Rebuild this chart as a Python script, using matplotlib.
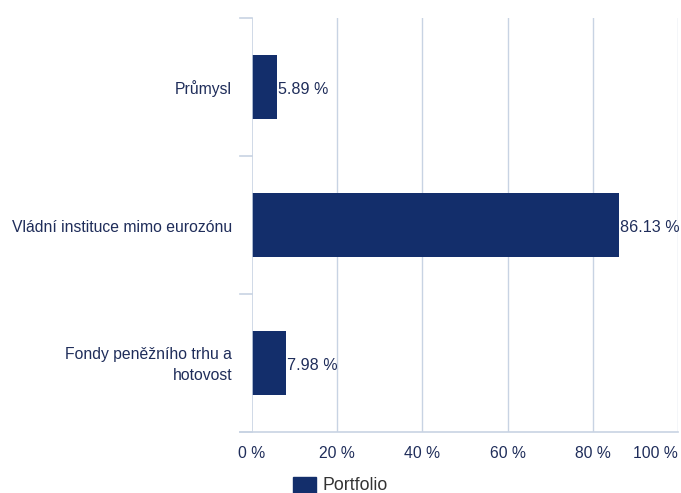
import matplotlib
matplotlib.use("Agg")
import matplotlib.pyplot as plt
from matplotlib.patches import Rectangle

categories = ["Průmysl", "Vládní instituce mimo eurozónu", "Fondy peněžního trhu a\nhotovost"]
values = [5.89, 86.13, 7.98]
xticks = [0, 20, 40, 60, 80, 100]
xtick_labels = ["0 %", "20 %", "40 %", "60 %", "80 %", "100 %"]
series_name = "Portfolio"

bar_color = "#132e6b"
text_color = "#1f2d5a"
grid_color = "#c8d3e3"

plt.rcParams['font.family'] = ['Liberation Sans', 'DejaVu Sans']

W, H = 681, 493
fig = plt.figure(figsize=(W / 100, H / 100), dpi=100)
ax = fig.add_axes([252 / W, 1 - 432 / H, (678 - 252) / W, (432 - 18) / H])

n = len(categories)
ypos = list(range(n))
ax.barh(ypos, values, height=0.465, color=bar_color, zorder=3)
ax.set_xlim(0, 100)
ax.set_ylim(n - 0.5, -0.5)

for spine in ax.spines.values():
    spine.set_visible(False)

# grid lines
for xv in xticks[1:]:
    ax.axvline(xv, color=grid_color, lw=1, zorder=1)
ax.axvline(0, color=grid_color, lw=1.2, zorder=4)
ax.axhline(n - 0.5, xmin=-12 / 426, xmax=1.0, color=grid_color, lw=1.2, clip_on=False, zorder=1)
# category boundary ticks
for b in range(n + 1):
    ax.plot([-12 / 426 * 100, 0], [b - 0.5, b - 0.5], color=grid_color, lw=1.2, clip_on=False, zorder=1)

ax.set_xticks(xticks)
ax.set_xticklabels(xtick_labels)
ax.tick_params(axis='x', length=0, pad=10, labelsize=11.3, colors=text_color)
labels = ax.get_xticklabels()
labels[-1].set_horizontalalignment('right')
ax.set_yticks([])

for y, lab in zip(ypos, categories):
    ax.annotate(lab, xy=(0, y), xytext=(-20, -2), textcoords='offset pixels',
                ha='right', va='center', fontsize=11.3, color=text_color,
                multialignment='right', linespacing=1.45)

for y, v in zip(ypos, values):
    ax.annotate(f"{v:.2f} %", xy=(v, y), xytext=(1, -2), textcoords='offset pixels',
                ha='left', va='center', fontsize=11.6, color=text_color, zorder=5)

# legend
fig.patches.append(Rectangle((293 / W, 1 - 493 / H), 23 / W, 16 / H, transform=fig.transFigure,
                             color=bar_color, figure=fig))
fig.text(322 / W, 1 - 485 / H, series_name, ha='left', va='center', fontsize=12.8, color="#333333")

fig.savefig("out.png", dpi=100)
